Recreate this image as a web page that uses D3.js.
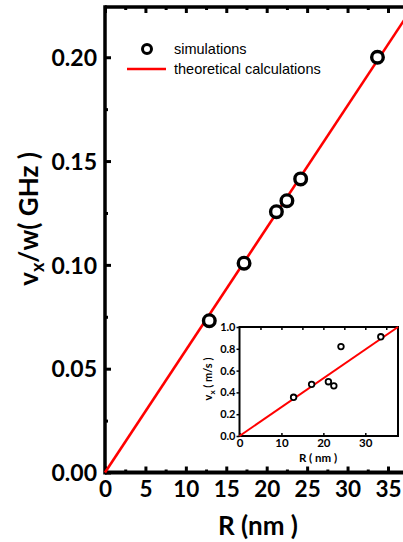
<!DOCTYPE html>
<html>
<head>
<meta charset="utf-8">
<script src="https://cdn.jsdelivr.net/npm/d3@7"></script>
<style>
  body { margin: 0; background: #fff; }
  svg { display: block; }
</style>
</head>
<body>
<div class="chart"></div>
<script>
// main panel: v_x / w against R
const radius = [12.9, 17.2, 21.2, 22.5, 24.2, 33.7];
const ratio = [0.0731, 0.1008, 0.1256, 0.1309, 0.1414, 0.2000];
const theoryR = [0, 40];
const theoryRatio = [0, 0.2356];
const xTicks = [0, 5, 10, 15, 20, 25, 30, 35];
const yTicks = [0, 0.05, 0.10, 0.15, 0.20];

// inset: v_x against R
const insetVel = [0.355, 0.474, 0.498, 0.46, 0.82, 0.91];
const insetTheoryR = [0, 37.8];
const insetTheoryVel = [0, 1.0];
const insetXTicks = [0, 10, 20, 30];
const insetYTicks = [0, 0.2, 0.4, 0.6, 0.8, 1.0];

const width = 403, height = 542;
const boldFont = "Lato, 'Open Sans', sans-serif";

const svg = d3.select(".chart").append("svg")
    .attr("width", width)
    .attr("height", height)
    .attr("viewBox", [0, 0, width, height]);

const x = d3.scaleLinear().domain([0, 40]).range([105, 428.4]);
const y = d3.scaleLinear().domain([0, 0.2242]).range([472.5, 7]);

function styleAxis(g, sw, size) {
    g.select(".domain").remove();
    g.selectAll(".tick line").attr("stroke", "#000").attr("stroke-width", sw);
    g.selectAll(".tick text")
        .attr("fill", "#000")
        .style("font-family", boldFont)
        .style("font-weight", 700)
        .style("font-size", size + "px");
}

const minorX = d3.range(2.5, 40, 5);
const minorY = [0.025, 0.075, 0.125, 0.175];

// bottom axis
svg.append("g").attr("transform", `translate(0,${y(0)})`)
    .call(d3.axisBottom(x).tickValues(xTicks).tickFormat(d3.format("d"))
        .tickSize(-6).tickPadding(9))
    .call(g => styleAxis(g, 3, 22.5));
svg.append("g").attr("transform", `translate(0,${y(0)})`)
    .call(d3.axisBottom(x).tickValues(minorX).tickFormat("").tickSize(-3))
    .call(g => styleAxis(g, 3, 22));

// top axis
svg.append("g").attr("transform", `translate(0,${y.range()[1]})`)
    .call(d3.axisTop(x).tickValues(xTicks).tickFormat("").tickSize(-6))
    .call(g => styleAxis(g, 3, 22));
svg.append("g").attr("transform", `translate(0,${y.range()[1]})`)
    .call(d3.axisTop(x).tickValues(minorX).tickFormat("").tickSize(-3))
    .call(g => styleAxis(g, 3, 22));

// left axis
svg.append("g").attr("transform", `translate(${x(0)},0)`)
    .call(d3.axisLeft(y).tickValues(yTicks).tickFormat(d3.format(".2f"))
        .tickSize(-6).tickPadding(8))
    .call(g => styleAxis(g, 3, 23))
    .call(g => g.selectAll(".tick text").attr("dy", "0.36em"));
svg.append("g").attr("transform", `translate(${x(0)},0)`)
    .call(d3.axisLeft(y).tickValues(minorY).tickFormat("").tickSize(-3))
    .call(g => styleAxis(g, 3, 22));

// frame lines
svg.append("line").attr("x1", x(0)).attr("x2", width + 5)
    .attr("y1", y(0)).attr("y2", y(0))
    .attr("stroke", "#000").attr("stroke-width", 4);
svg.append("line").attr("x1", x(0)).attr("x2", width + 5)
    .attr("y1", y.range()[1]).attr("y2", y.range()[1])
    .attr("stroke", "#000").attr("stroke-width", 3.5);
svg.append("line").attr("x1", x(0)).attr("x2", x(0))
    .attr("y1", y.range()[1] - 1.75).attr("y2", y(0) + 2)
    .attr("stroke", "#000").attr("stroke-width", 3.5);

// theory line
const theory = theoryR.map((r, i) => [r, theoryRatio[i]]);
svg.append("path").datum(theory)
    .attr("d", d3.line().x(d => x(d[0])).y(d => y(d[1])))
    .attr("fill", "none")
    .attr("stroke", "#ff0000")
    .attr("stroke-width", 2.6);

// simulation points
svg.append("g").selectAll("circle")
    .data(radius.map((r, i) => [r, ratio[i]]))
    .join("circle")
    .attr("cx", d => x(d[0]))
    .attr("cy", d => y(d[1]))
    .attr("r", 5.8)
    .attr("fill", "#fff")
    .attr("stroke", "#000")
    .attr("stroke-width", 3.4);

// legend
const legend = svg.append("g").style("font-family", "'Liberation Sans', Arial, sans-serif")
    .style("font-size", "14.5px");
legend.append("circle").attr("cx", 147).attr("cy", 49).attr("r", 4.5)
    .attr("fill", "#fff").attr("stroke", "#000").attr("stroke-width", 3);
legend.append("text").attr("x", 174).attr("y", 54).text("simulations");
legend.append("line").attr("x1", 127).attr("x2", 166).attr("y1", 69).attr("y2", 69)
    .attr("stroke", "#ff0000").attr("stroke-width", 2.6);
legend.append("text").attr("x", 174).attr("y", 74).text("theoretical calculations");

// axis titles
const yTitle = svg.append("text")
    .attr("transform", "translate(38,219) rotate(-90)")
    .attr("text-anchor", "middle")
    .style("font-family", boldFont).style("font-weight", 700).style("font-size", "26px");
yTitle.append("tspan").text("v");
yTitle.append("tspan").attr("dy", 6).style("font-size", "18px").text("x");
yTitle.append("tspan").attr("dy", -6).text("/w( GHz )");

svg.append("text")
    .attr("x", 258).attr("y", 535)
    .attr("text-anchor", "middle")
    .style("font-family", boldFont).style("font-weight", 700).style("font-size", "26px")
    .text("R (nm )");

// inset
const ix = d3.scaleLinear().domain([0, 37.8]).range([239.5, 398]);
const iy = d3.scaleLinear().domain([0, 1.0]).range([436, 327]);
const inset = svg.append("g");

inset.append("rect")
    .attr("x", ix(0)).attr("y", iy(1))
    .attr("width", ix(37.8) - ix(0)).attr("height", iy(0) - iy(1))
    .attr("fill", "#fff").attr("stroke", "#000").attr("stroke-width", 2);

inset.append("g").attr("transform", `translate(0,${iy(0)})`)
    .call(d3.axisBottom(ix).tickValues(insetXTicks).tickSize(-3).tickPadding(3))
    .call(g => styleAxis(g, 1.5, 11.5));
inset.append("g").attr("transform", `translate(0,${iy(1)})`)
    .call(d3.axisTop(ix).tickValues(d3.range(5, 38, 5)).tickFormat("").tickSize(-3))
    .call(g => styleAxis(g, 1.5, 11));
inset.append("g").attr("transform", `translate(${ix(0)},0)`)
    .call(d3.axisLeft(iy).tickValues(insetYTicks).tickFormat(d3.format(".1f"))
        .tickSize(3).tickPadding(1))
    .call(g => styleAxis(g, 1.5, 11));

inset.append("path")
    .datum(insetTheoryR.map((r, i) => [r, insetTheoryVel[i]]))
    .attr("d", d3.line().x(d => ix(d[0])).y(d => iy(d[1])))
    .attr("fill", "none").attr("stroke", "#ff0000").attr("stroke-width", 2);

inset.append("g").selectAll("circle")
    .data(radius.map((r, i) => [r, insetVel[i]]))
    .join("circle")
    .attr("cx", d => ix(d[0]))
    .attr("cy", d => iy(d[1]))
    .attr("r", 2.8)
    .attr("fill", "#fff")
    .attr("stroke", "#000")
    .attr("stroke-width", 1.8);

inset.append("text")
    .attr("x", 318).attr("y", 462)
    .attr("text-anchor", "middle")
    .style("font-family", boldFont).style("font-weight", 700).style("font-size", "11.5px")
    .text("R ( nm )");

const iyTitle = inset.append("text")
    .attr("transform", "translate(212,379) rotate(-90)")
    .attr("text-anchor", "middle")
    .style("font-family", boldFont).style("font-weight", 700).style("font-size", "11px");
iyTitle.append("tspan").text("v");
iyTitle.append("tspan").attr("dy", 3).style("font-size", "8px").text("x");
iyTitle.append("tspan").attr("dy", -3).text(" ( m/s )");
</script>
</body>
</html>
